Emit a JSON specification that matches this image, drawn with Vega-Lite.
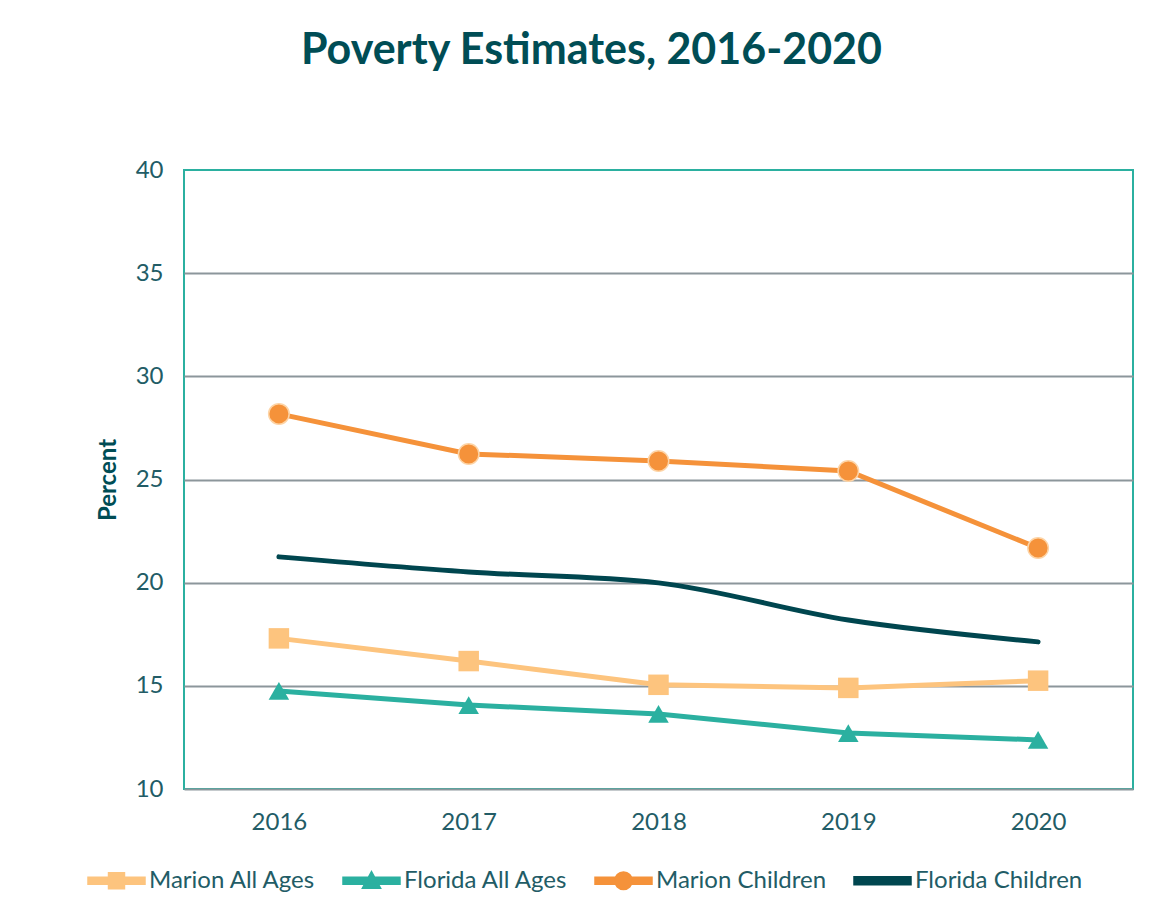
{
  "$schema": "https://vega.github.io/schema/vega-lite/v6.json",
  "width": 949,
  "height": 619,
  "autosize": {"type": "none"},
  "padding": {"left": 184, "top": 170, "right": 28, "bottom": 131},
  "background": "white",
  "config": {
    "view": {"stroke": "#2BB0A0", "strokeWidth": 2},
    "font": "Lato"
  },
  "title": {
    "text": "Poverty Estimates, 2016-2020",
    "fontSize": 43,
    "font": "Lato",
    "fontWeight": "bold",
    "color": "#004D55",
    "anchor": "middle",
    "dx": -67,
    "offset": 85
  },
  "data": {
    "values": [
      {"year": "2016", "series": "Marion All Ages", "value": 17.3},
      {"year": "2017", "series": "Marion All Ages", "value": 16.2},
      {"year": "2018", "series": "Marion All Ages", "value": 15.05},
      {"year": "2019", "series": "Marion All Ages", "value": 14.9},
      {"year": "2020", "series": "Marion All Ages", "value": 15.25},
      {"year": "2016", "series": "Florida All Ages", "value": 14.75},
      {"year": "2017", "series": "Florida All Ages", "value": 14.07},
      {"year": "2018", "series": "Florida All Ages", "value": 13.64},
      {"year": "2019", "series": "Florida All Ages", "value": 12.71},
      {"year": "2020", "series": "Florida All Ages", "value": 12.38},
      {"year": "2016", "series": "Marion Children", "value": 28.18},
      {"year": "2017", "series": "Marion Children", "value": 26.24},
      {"year": "2018", "series": "Marion Children", "value": 25.9},
      {"year": "2019", "series": "Marion Children", "value": 25.41},
      {"year": "2020", "series": "Marion Children", "value": 21.68},
      {"year": "2016", "series": "Florida Children", "value": 21.25},
      {"year": "2017", "series": "Florida Children", "value": 20.52},
      {"year": "2018", "series": "Florida Children", "value": 19.99},
      {"year": "2019", "series": "Florida Children", "value": 18.19},
      {"year": "2020", "series": "Florida Children", "value": 17.13}
    ]
  },
  "encoding": {
    "x": {
      "field": "year",
      "type": "ordinal",
      "scale": {"type": "point", "padding": 0.5},
      "axis": {
        "title": null,
        "labelAngle": 0,
        "ticks": false,
        "domain": false,
        "labelFontSize": 24,
        "labelColor": "#225C66",
        "labelPadding": 21
      }
    },
    "y": {
      "field": "value",
      "type": "quantitative",
      "scale": {"domain": [10, 40], "nice": false, "zero": false},
      "axis": {
        "values": [10, 15, 20, 25, 30, 35, 40],
        "title": "Percent",
        "titleFontSize": 24,
        "titleFontWeight": "bold",
        "titleColor": "#004D55",
        "titlePadding": 15,
        "labelFontSize": 24,
        "labelColor": "#225C66",
        "labelPadding": 21,
        "ticks": false,
        "domain": false,
        "grid": true,
        "gridWidth": 2,
        "gridColor": {"condition": {"test": "datum.value === 40", "value": "transparent"}, "value": "#8C969B"}
      }
    },
    "color": {
      "field": "series",
      "type": "nominal",
      "scale": {
        "domain": ["Marion All Ages", "Florida All Ages", "Marion Children", "Florida Children"],
        "range": ["#FDC47E", "#2BB0A0", "#F5923A", "#00464F"]
      },
      "legend": {
        "orient": "none",
        "legendX": -97,
        "legendY": 681,
        "direction": "horizontal",
        "title": null,
        "labelFontSize": 24,
        "labelColor": "#225C66",
        "labelFont": "Lato",
        "labelLimit": 400,
        "symbolSize": 3249,
        "labelOffset": 3,
        "columnPadding": 24,
        "encode": {
          "symbols": {
            "update": {
              "shape": [
                {"test": "datum.value === 'Marion All Ages'", "value": "M-1,-0.12L1,-0.12L1,0.12L-1,0.12Z M-0.28,-0.28L0.28,-0.28L0.28,0.28L-0.28,0.28Z"},
                {"test": "datum.value === 'Florida All Ages'", "value": "M-1,-0.12L1,-0.12L1,0.12L-1,0.12Z M0,-0.32L0.32,0.26L-0.32,0.26Z"},
                {"test": "datum.value === 'Marion Children'", "value": "M-1,-0.12L1,-0.12L1,0.12L-1,0.12Z M-0.31,0A0.31,0.31 0 1,1 0.31,0A0.31,0.31 0 1,1 -0.31,0Z"},
                {"value": "M-1,-0.14L1,-0.14L1,0.14L-1,0.14Z"}
              ],
              "fill": {"scale": "color", "field": "value"},
              "stroke": {"value": "transparent"},
              "opacity": {"value": 1}
            }
          }
        }
      }
    }
  },
  "layer": [
    {
      "transform": [{"filter": "datum.series !== 'Florida Children'"}],
      "mark": {"type": "line", "strokeWidth": 5}
    },
    {
      "transform": [{"filter": "datum.series === 'Florida Children'"}],
      "mark": {"type": "line", "strokeWidth": 5, "interpolate": "monotone", "strokeCap": "round"}
    },
    {
      "transform": [{"filter": "datum.series === 'Marion All Ages' || datum.series === 'Florida All Ages'"}],
      "mark": {"type": "point", "filled": true, "opacity": 1, "size": 420},
      "encoding": {
        "shape": {
          "field": "series",
          "type": "nominal",
          "scale": {"domain": ["Marion All Ages", "Florida All Ages"], "range": ["square", "triangle-up"]},
          "legend": null
        }
      }
    },
    {
      "transform": [{"filter": "datum.series === 'Marion Children'"}],
      "mark": {"type": "circle", "opacity": 1, "size": 420, "stroke": "#FDD4A6", "strokeWidth": 1.5}
    }
  ]
}
